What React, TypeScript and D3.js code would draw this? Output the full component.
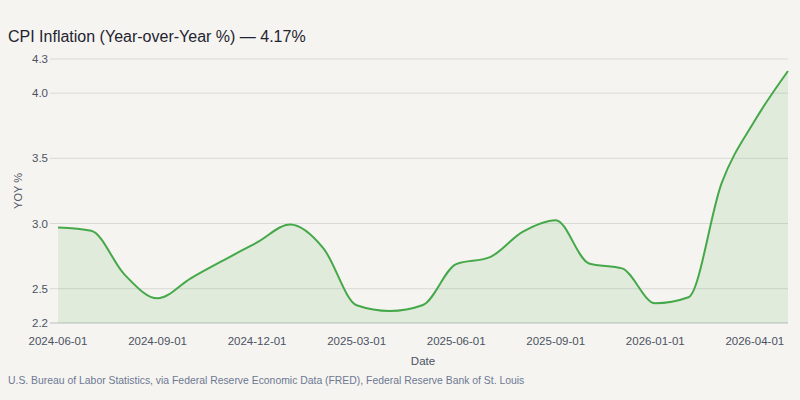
import React from 'react'
import * as d3 from 'd3'

// monthly CPI YoY readings (2025-10 missing from the source)
const dates = [
  '2024-06-01', '2024-07-01', '2024-08-01', '2024-09-01', '2024-10-01', '2024-11-01',
  '2024-12-01', '2025-01-01', '2025-02-01', '2025-03-01', '2025-04-01', '2025-05-01',
  '2025-06-01', '2025-07-01', '2025-08-01', '2025-09-01', '2025-11-01', '2025-12-01',
  '2026-01-01', '2026-02-01', '2026-03-01', '2026-04-01', '2026-05-01',
]
const yoy = [
  2.97, 2.945, 2.61, 2.426, 2.58, 2.72,
  2.855, 2.993, 2.81, 2.373, 2.329, 2.375,
  2.689, 2.74, 2.936, 3.026, 2.694, 2.656,
  2.388, 2.434, 3.31, 3.79, 4.17,
]
const xTickLabels = [
  '2024-06-01', '2024-09-01', '2024-12-01', '2025-03-01',
  '2025-06-01', '2025-09-01', '2026-01-01', '2026-04-01',
]
const yTicks = [2.5, 3.0, 3.5, 4.0]

const title = 'CPI Inflation (Year-over-Year %) — 4.17%'
const source = 'U.S. Bureau of Labor Statistics, via Federal Reserve Economic Data (FRED), Federal Reserve Bank of St. Louis'

const App = () => {
  const width = 800
  const height = 400
  const margin = { top: 59, right: 12, bottom: 77, left: 58 }
  const font = '"Liberation Sans", Arial, sans-serif'

  const data = dates.map((d, i) => ({ date: d, value: yoy[i] }))

  const lo = d3.min(yoy)
  const hi = d3.max(yoy)
  const pad = (hi - lo) * 0.05
  const yMin = lo - pad
  const yMax = hi + pad

  const x = d3.scalePoint()
    .domain(dates)
    .range([margin.left, width - margin.right])

  const y = d3.scaleLinear()
    .domain([yMin, yMax])
    .range([height - margin.bottom, margin.top])

  const line = d3.line()
    .x(d => x(d.date))
    .y(d => y(d.value))
    .curve(d3.curveMonotoneX)

  const area = d3.area()
    .x(d => x(d.date))
    .y0(y(yMin))
    .y1(d => y(d.value))
    .curve(d3.curveMonotoneX)

  const ticks = [yMin, ...yTicks, yMax]
  const fmt = d3.format('.1f')

  return (
    <svg width={width} height={height} style={{ position: 'absolute', left: 0, top: 0, background: '#f5f4f0' }}>
      <rect width={width} height={height} fill='#f5f4f0' />
      <text x={8} y={42} fontFamily={font} fontSize={16} fill='#1f2330'>{title}</text>

      {ticks.map((t, i) => (
        <g key={i}>
          <line x1={margin.left - 8} x2={width - margin.right} y1={y(t)} y2={y(t)}
            stroke={i === 0 ? '#b9bfbf' : '#d9d9d6'} strokeWidth={1} />
          <text x={margin.left - 10} y={y(t)} dy='0.35em' textAnchor='end'
            fontFamily={font} fontSize={11.5} fill='#4b5263'>{fmt(t)}</text>
        </g>
      ))}

      <path d={area(data)} fill='#4caf50' fillOpacity={0.12} />
      <path d={line(data)} fill='none' stroke='#45a849' strokeWidth={2} />

      {xTickLabels.map(d => (
        <text key={d} x={x(d)} y={345} textAnchor='middle'
          fontFamily={font} fontSize={11.5} fill='#4b5263'>{d}</text>
      ))}

      <text x={423} y={365} textAnchor='middle' fontFamily={font} fontSize={11.5} fill='#4b5263'>Date</text>
      <text transform={`translate(22,${(margin.top + height - margin.bottom) / 2}) rotate(-90)`}
        textAnchor='middle' fontFamily={font} fontSize={11} fill='#4b5263'>YOY %</text>

      <text x={8} y={384} fontFamily={font} fontSize={10.4} fill='#6d7893'>{source}</text>
    </svg>
  )
}

export default App
